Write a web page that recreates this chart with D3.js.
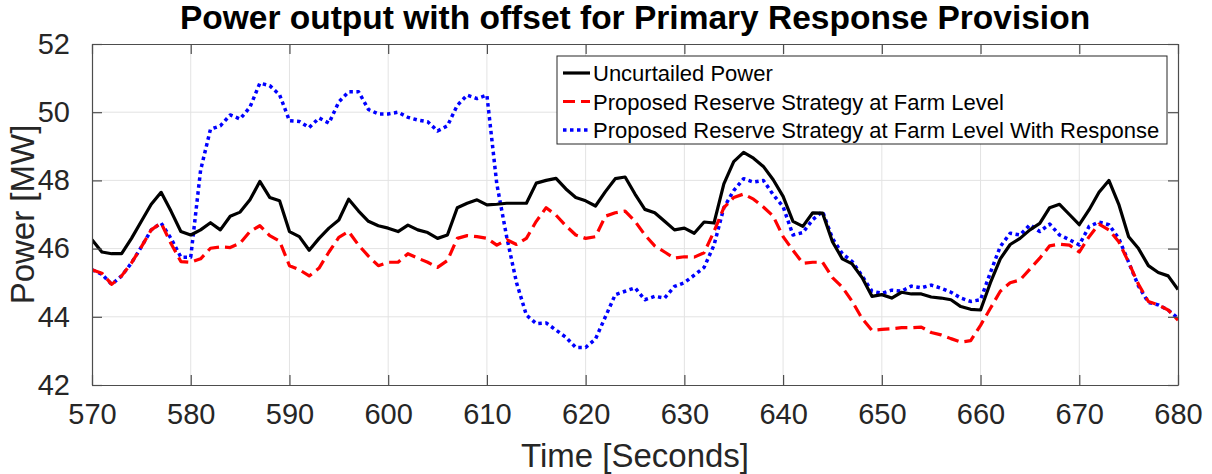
<!DOCTYPE html>
<html>
<head>
<meta charset="utf-8">
<script src="https://cdn.jsdelivr.net/npm/d3@7"></script>
<style>
  body { margin: 0; background: #fff; }
  text { font-family: "Liberation Sans", Arial, sans-serif; }
</style>
</head>
<body>
<div id="container"></div>
<script>
const time = [570, 571, 572, 573, 574, 575, 576, 577, 578, 579,
  580, 581, 582, 583, 584, 585, 586, 587, 588, 589,
  590, 591, 592, 593, 594, 595, 596, 597, 598, 599,
  600, 601, 602, 603, 604, 605, 606, 607, 608, 609,
  610, 611, 612, 613, 614, 615, 616, 617, 618, 619,
  620, 621, 622, 623, 624, 625, 626, 627, 628, 629,
  630, 631, 632, 633, 634, 635, 636, 637, 638, 639,
  640, 641, 642, 643, 644, 645, 646, 647, 648, 649,
  650, 651, 652, 653, 654, 655, 656, 657, 658, 659,
  660, 661, 662, 663, 664, 665, 666, 667, 668, 669,
  670, 671, 672, 673, 674, 675, 676, 677, 678, 679, 680];

const uncurtailed = [46.26, 45.9, 45.85, 45.85, 46.3, 46.8, 47.3, 47.65, 47.1, 46.5,
  46.4, 46.55, 46.76, 46.55, 46.95, 47.07, 47.43, 47.97, 47.5, 47.4,
  46.5, 46.35, 45.95, 46.3, 46.6, 46.84, 47.45, 47.1, 46.8, 46.67,
  46.6, 46.5, 46.69, 46.55, 46.47, 46.3, 46.4, 47.2, 47.33, 47.43,
  47.28, 47.3, 47.33, 47.33, 47.33, 47.92, 48.0, 48.06, 47.75, 47.5,
  47.4, 47.25, 47.67, 48.05, 48.1, 47.6, 47.15, 47.05, 46.8, 46.55,
  46.6, 46.45, 46.78, 46.75, 47.9, 48.55, 48.82, 48.65, 48.41, 48.02,
  47.53, 46.8, 46.65, 47.05, 47.04, 46.2, 45.7, 45.55, 45.15, 44.6,
  44.65, 44.55, 44.72, 44.67, 44.67, 44.58, 44.55, 44.5, 44.3, 44.22,
  44.2, 45.0, 45.7, 46.12, 46.3, 46.55, 46.74, 47.2, 47.3, 47.0,
  46.7, 47.14, 47.65, 48.0, 47.3, 46.35, 46.0, 45.5, 45.3, 45.2, 44.8];

const reserve = [45.38, 45.28, 44.95, 45.2, 45.58, 46.05, 46.55, 46.75, 46.15, 45.62,
  45.6, 45.7, 46.01, 46.05, 46.03, 46.16, 46.5, 46.67, 46.38, 46.22,
  45.5, 45.38, 45.2, 45.43, 45.9, 46.33, 46.5, 46.1, 45.78, 45.5,
  45.6, 45.6, 45.85, 45.72, 45.6, 45.45, 45.65, 46.3, 46.38, 46.35,
  46.3, 46.1, 46.26, 46.12, 46.3, 46.8, 47.2, 46.98, 46.67, 46.4,
  46.3, 46.35, 46.95, 47.05, 47.1, 46.8, 46.4, 46.08, 45.9, 45.72,
  45.76, 45.75, 45.88, 46.5, 47.2, 47.5, 47.6, 47.45, 47.22, 46.95,
  46.35, 45.95, 45.57, 45.6, 45.6, 45.15, 44.87, 44.45, 43.95, 43.6,
  43.63, 43.65, 43.68, 43.68, 43.7, 43.54, 43.47, 43.36, 43.26, 43.3,
  43.75, 44.25, 44.75, 45.0, 45.08, 45.4, 45.72, 46.08, 46.13, 46.1,
  45.9, 46.35, 46.72, 46.55, 46.2, 45.6, 44.95, 44.45, 44.35, 44.2, 43.9];

const withResponse = [45.38, 45.25, 44.95, 45.2, 45.58, 46.05, 46.55, 46.75, 46.3, 45.75,
  45.75, 48.3, 49.5, 49.6, 49.92, 49.8, 50.15, 50.85, 50.78, 50.51,
  49.75, 49.73, 49.55, 49.83, 49.68, 50.3, 50.6, 50.6, 50.08, 49.95,
  49.95, 50.0, 49.85, 49.77, 49.72, 49.45, 49.6, 50.2, 50.5, 50.4,
  50.5, 47.9, 46.35, 45.0, 44.05, 43.8, 43.82, 43.61, 43.4, 43.1,
  43.1, 43.35, 44.0, 44.65, 44.75, 44.85, 44.5, 44.6, 44.55, 44.89,
  45.0, 45.22, 45.45, 46.1, 47.2, 47.7, 48.05, 47.95, 48.0, 47.58,
  47.23, 46.4, 46.47, 46.85, 47.09, 46.3, 45.85, 45.62, 45.2, 44.75,
  44.69, 44.78, 44.75, 44.9, 44.85, 44.93, 44.84, 44.72, 44.55, 44.45,
  44.5, 45.3, 46.06, 46.45, 46.4, 46.7, 46.5, 46.72, 46.4, 46.26,
  46.11, 46.65, 46.78, 46.7, 46.3, 45.6, 44.9, 44.42, 44.35, 44.2, 43.96];

const xTicks = [570, 580, 590, 600, 610, 620, 630, 640, 650, 660, 670, 680];
const yTicks = [42, 44, 46, 48, 50, 52];

const seriesNames = [
  "Uncurtailed Power",
  "Proposed Reserve Strategy at Farm Level",
  "Proposed Reserve Strategy at Farm Level With Response",
];

const w = 1212;
const h = 474;
const plotLeft = 92, plotRight = 1178, plotTop = 44, plotBottom = 385;
const axisColor = "#262626";

const svg = d3
  .select("#container")
  .append("svg")
  .attr("width", w)
  .attr("height", h)
  .style("background-color", "white");

const xScale = d3.scaleLinear().domain([570, 680]).range([plotLeft, plotRight]);
const yScale = d3.scaleLinear().domain([42, 52]).range([plotBottom, plotTop]);

// grid
svg
  .append("g")
  .selectAll("line")
  .data(xTicks.slice(1, -1))
  .enter()
  .append("line")
  .attr("x1", (d) => xScale(d))
  .attr("x2", (d) => xScale(d))
  .attr("y1", plotTop)
  .attr("y2", plotBottom)
  .attr("stroke", "#e3e3e3")
  .attr("stroke-width", 1);

svg
  .append("g")
  .selectAll("line")
  .data(yTicks.slice(1, -1))
  .enter()
  .append("line")
  .attr("x1", plotLeft)
  .attr("x2", plotRight)
  .attr("y1", (d) => yScale(d))
  .attr("y2", (d) => yScale(d))
  .attr("stroke", "#e3e3e3")
  .attr("stroke-width", 1);

// lines
const styles = [
  { data: uncurtailed, color: "#000000", width: 3.2, dash: null },
  { data: reserve, color: "#ff0000", width: 3.2, dash: "12,6" },
  { data: withResponse, color: "#0000ff", width: 3.5, dash: "3.5,3.5" },
];

const line = d3
  .line()
  .x((d, i) => xScale(time[i]))
  .y((d) => yScale(d));

svg
  .append("defs")
  .append("clipPath")
  .attr("id", "plot-clip")
  .append("rect")
  .attr("x", plotLeft)
  .attr("y", plotTop)
  .attr("width", plotRight - plotLeft)
  .attr("height", plotBottom - plotTop);

const lines = svg.append("g").attr("clip-path", "url(#plot-clip)");
[2, 1, 0].forEach((k) => {
  const s = styles[k];
  lines
    .append("path")
    .datum(s.data)
    .attr("d", line)
    .attr("fill", "none")
    .attr("stroke", s.color)
    .attr("stroke-width", s.width)
    .attr("stroke-dasharray", s.dash)
    .attr("stroke-linejoin", "round");
});

// axes (box with inward ticks on all sides)
const tickLen = 10;
const xAxis = d3.axisBottom(xScale).tickValues(xTicks).tickSizeInner(-tickLen).tickSizeOuter(0).tickPadding(18);
const xAxisTop = d3.axisTop(xScale).tickValues(xTicks).tickSizeInner(-tickLen).tickSizeOuter(0).tickFormat("");
const yAxis = d3.axisLeft(yScale).tickValues(yTicks).tickSizeInner(-tickLen).tickSizeOuter(0).tickPadding(22);
const yAxisRight = d3.axisRight(yScale).tickValues(yTicks).tickSizeInner(-tickLen).tickSizeOuter(0).tickFormat("");

const gx = svg.append("g").attr("transform", `translate(0, ${plotBottom})`).call(xAxis);
const gxt = svg.append("g").attr("transform", `translate(0, ${plotTop})`).call(xAxisTop);
const gy = svg.append("g").attr("transform", `translate(${plotLeft}, 0)`).call(yAxis);
const gyr = svg.append("g").attr("transform", `translate(${plotRight}, 0)`).call(yAxisRight);

[gx, gxt, gy, gyr].forEach((g) => {
  g.select(".domain").attr("stroke", "#4d4d4d").attr("stroke-width", 1.2);
  g.selectAll(".tick line").attr("stroke", "#4d4d4d").attr("stroke-width", 1.2);
  g.selectAll("text")
    .attr("fill", axisColor)
    .attr("font-size", 29)
    .attr("font-family", "Liberation Sans, Arial, sans-serif");
});

// title and axis labels
svg
  .append("text")
  .attr("x", (plotLeft + plotRight) / 2)
  .attr("y", 29)
  .attr("text-anchor", "middle")
  .attr("font-weight", "bold")
  .attr("font-size", 33.5)
  .attr("fill", "#000")
  .text("Power output with offset for Primary Response Provision");

svg
  .append("text")
  .attr("x", (plotLeft + plotRight) / 2)
  .attr("y", 467)
  .attr("text-anchor", "middle")
  .attr("font-size", 33)
  .attr("fill", axisColor)
  .text("Time [Seconds]");

svg
  .append("text")
  .attr("text-anchor", "middle")
  .attr("transform", `translate(34, ${(plotTop + plotBottom) / 2}) rotate(-90)`)
  .attr("font-size", 33)
  .attr("fill", axisColor)
  .text("Power [MW]");

// legend
const legend = svg.append("g").attr("transform", "translate(557, 56)");
legend
  .append("rect")
  .attr("width", 610)
  .attr("height", 88)
  .attr("fill", "white")
  .attr("stroke", axisColor)
  .attr("stroke-width", 1);

seriesNames.forEach((name, i) => {
  const s = styles[i];
  const yy = 17 + i * 28.5;
  legend
    .append("line")
    .attr("x1", 6)
    .attr("x2", 33)
    .attr("y1", yy)
    .attr("y2", yy)
    .attr("stroke", s.color)
    .attr("stroke-width", s.width)
    .attr("stroke-dasharray", s.dash);
  legend
    .append("text")
    .attr("x", 36)
    .attr("y", yy + 8)
    .attr("font-size", 22)
    .attr("fill", "#000")
    .text(name);
});
</script>
</body>
</html>
